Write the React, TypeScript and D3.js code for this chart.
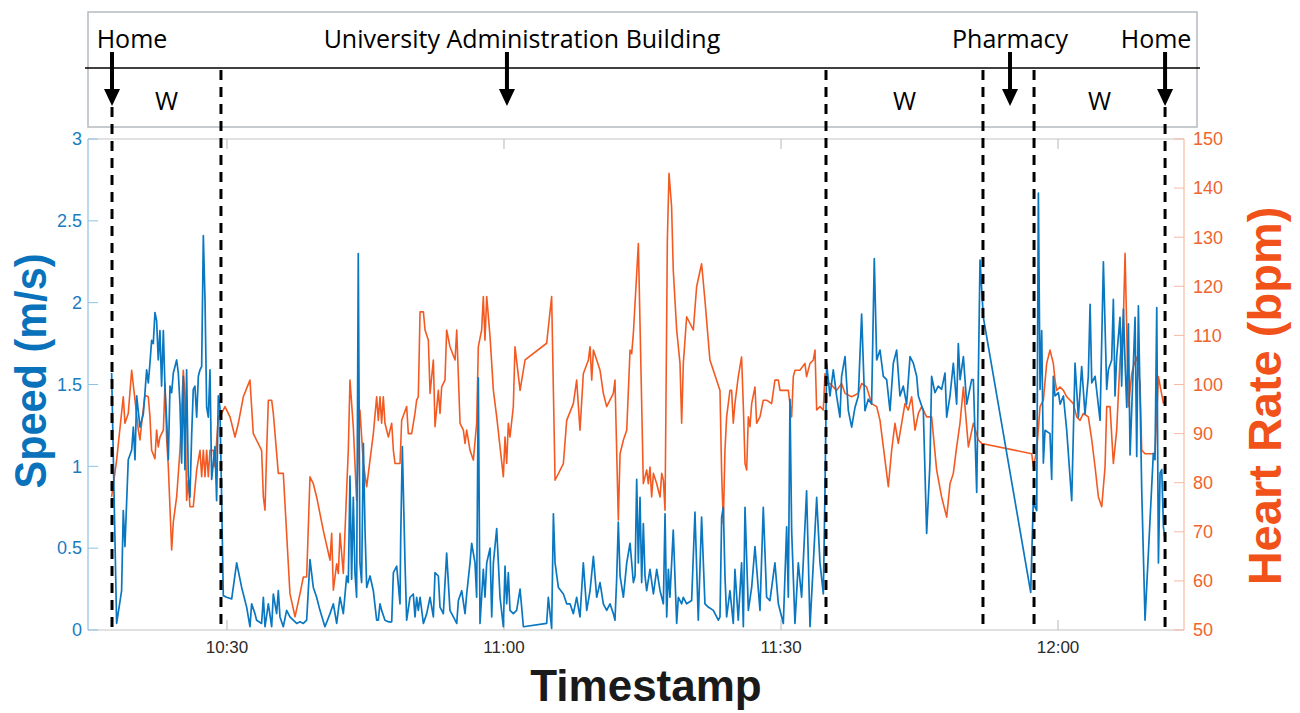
import * as d3 from 'd3';

const WIDTH = 1300;
const HEIGHT = 713;

// minutes after 10:00 -> walking speed (m/s)
const speedData: [number, number][] = [
  [17.51, 1.57], [18.05, 0.04], [18.59, 0.24], [18.77, 0.73], [18.95, 0.51], [19.31, 1.04], [19.68, 1.1], [19.86, 1.24],
  [20.04, 1.04], [20.22, 1.43], [20.58, 1.24], [20.94, 1.32], [21.12, 1.45], [21.3, 1.59], [21.48, 1.51], [21.66, 1.63],
  [21.84, 1.77], [22.02, 1.75], [22.2, 1.94], [22.38, 1.89], [22.56, 1.65], [22.74, 1.83], [22.92, 1.49], [23.11, 1.83],
  [23.29, 1.47], [23.47, 1.28], [23.65, 1.04], [23.83, 1.49], [24.01, 1.45], [24.19, 1.57], [24.55, 1.65], [24.73, 1.57],
  [24.91, 1.38], [25.09, 1.02], [25.27, 1.55], [25.45, 0.98], [25.63, 1.59], [25.81, 0.94], [25.99, 0.81], [26.17, 1.18],
  [26.35, 1.47], [26.53, 1.49], [26.72, 1.3], [26.9, 1.55], [27.08, 1.59], [27.26, 1.61], [27.44, 2.41], [27.62, 2.02],
  [27.8, 1.36], [27.98, 1.3], [28.16, 1.59], [28.34, 0.92], [28.52, 1.02], [28.7, 1.12], [28.88, 0.79], [29.06, 1.43],
  [29.24, 1.36], [29.42, 0.81], [29.6, 0.21], [29.96, 0.2], [30.51, 0.19], [31.05, 0.41], [31.59, 0.26], [32.13, 0.14],
  [32.49, 0.02], [32.67, 0.16], [33.03, 0.1], [33.21, 0.06], [33.75, 0.04], [33.94, 0.2], [34.12, 0.02], [34.48, 0.16],
  [34.84, 0.02], [35.02, 0.22], [35.38, 0.1], [35.56, 0.24], [35.74, 0.08], [36.1, 0.02], [36.46, 0.12], [36.82, 0.08],
  [37.18, 0.06], [37.55, 0.04], [37.91, 0.05], [38.27, 0.04], [38.63, 0.06], [38.99, 0.43], [39.35, 0.26], [39.71, 0.2],
  [40.07, 0.12], [40.61, 0.02], [41.16, 0.1], [41.52, 0.16], [41.88, 0.04], [42.24, 0.2], [42.6, 0.1], [42.96, 0.33],
  [43.14, 0.29], [43.32, 0.94], [43.5, 0.31], [43.68, 0.81], [43.86, 0.35], [44.04, 0.2], [44.22, 2.3], [44.4, 0.41],
  [44.58, 0.29], [44.77, 1.14], [44.95, 0.61], [45.13, 0.26], [45.49, 0.33], [45.85, 0.24], [46.21, 0.06], [46.39, 0.06],
  [46.57, 0.16], [46.75, 0.12], [47.11, 0.06], [47.48, 0.05], [47.84, 0.05], [48.02, 0.35], [48.38, 0.39], [48.74, 0.16],
  [48.81, 0.55], [48.99, 1.12], [49.28, 0.41], [49.46, 0.06], [49.82, 0.2], [50.18, 0.22], [50.36, 0.08], [50.54, 0.2],
  [50.72, 0.12], [50.91, 0.2], [51.27, 0.04], [51.63, 0.1], [51.99, 0.2], [52.35, 0.08], [52.53, 0.35], [52.89, 0.33],
  [53.07, 0.14], [53.43, 0.1], [53.79, 0.47], [54.15, 0.12], [54.52, 0.08], [54.88, 0.04], [55.06, 0.18], [55.42, 0.24],
  [55.78, 0.1], [55.96, 0.22], [56.32, 0.41], [56.5, 0.53], [56.68, 0.47], [56.86, 0.41], [57.04, 0.2], [57.22, 1.54],
  [57.4, 0.04], [57.76, 0.37], [57.94, 0.2], [58.13, 0.41], [58.49, 0.5], [58.67, 0.08], [58.85, 0.41], [59.21, 0.62],
  [59.57, 0.2], [59.93, 0.02], [60.11, 0.39], [60.29, 0.16], [60.47, 0.35], [60.65, 0.12], [61.01, 0.1], [61.37, 0.12],
  [61.74, 0.25], [62.1, 0.02], [64.62, 0.04], [64.8, 0.2], [65.16, 0.01], [65.35, 0.71], [65.53, 0.41], [65.89, 0.26],
  [66.43, 0.22], [66.79, 0.16], [67.15, 0.16], [67.51, 0.1], [67.87, 0.2], [68.23, 0.08], [68.59, 0.41], [68.96, 0.12],
  [69.32, 0.24], [69.68, 0.45], [70.04, 0.2], [70.4, 0.29], [70.76, 0.16], [71.12, 0.12], [71.48, 0.16], [71.84, 0.1],
  [72.02, 0.06], [72.2, 0.31], [72.38, 0.66], [72.57, 0.33], [72.93, 0.2], [73.29, 0.41], [73.65, 0.53], [74.01, 0.29],
  [74.19, 0.33], [74.37, 0.92], [74.55, 0.41], [74.73, 0.81], [74.91, 0.29], [75.09, 0.65], [75.27, 0.33], [75.45, 0.24],
  [75.81, 0.37], [76.18, 0.22], [76.54, 0.37], [76.9, 0.24], [77.26, 0.16], [77.44, 0.71], [77.62, 0.08], [77.8, 0.37],
  [77.97, 0.2], [78.33, 0.61], [78.7, 0.04], [78.88, 0.2], [79.24, 0.16], [79.42, 0.2], [79.78, 0.16], [80.32, 0.18],
  [80.68, 0.72], [81.04, 0.06], [81.4, 0.69], [81.76, 0.16], [82.12, 0.14], [82.67, 0.12], [83.21, 0.06], [83.39, 0.08],
  [83.57, 0.69], [83.75, 0.75], [83.93, 0.33], [84.11, 0.08], [84.47, 0.24], [84.83, 0.04], [85.01, 0.37], [85.37, 0.06],
  [85.73, 0.41], [85.92, 0.02], [86.1, 0.75], [86.46, 0.12], [86.82, 0.26], [87.18, 0.51], [87.72, 0.12], [88.08, 0.75],
  [88.44, 0.2], [88.8, 0.18], [89.34, 0.41], [89.71, 0.16], [90.25, 0.04], [90.61, 0.63], [90.79, 0.2], [90.97, 1.41],
  [91.15, 0.61], [91.51, 0.04], [91.87, 0.41], [92.23, 0.2], [92.77, 0.85], [93.14, 0.02], [93.5, 0.41], [93.86, 0.81],
  [94.22, 0.41], [94.58, 0.22], [94.76, 0.85], [94.94, 1.63], [95.3, 1.43], [95.66, 1.59], [96.02, 1.43], [96.38, 1.3],
  [96.56, 1.55], [96.93, 1.67], [97.29, 1.34], [97.65, 1.24], [98.01, 1.36], [98.37, 1.43], [98.73, 1.93], [99.09, 1.34],
  [99.45, 1.41], [99.81, 1.38], [100.1, 2.27], [100.36, 1.65], [100.72, 1.71], [101.08, 1.55], [101.44, 1.53], [101.8, 1.34],
  [102.16, 1.63], [102.52, 1.71], [102.88, 1.43], [103.24, 1.49], [103.6, 1.38], [103.97, 1.67], [104.33, 1.63], [104.69, 1.55],
  [104.87, 1.43], [105.41, 1.34], [105.77, 0.59], [106.13, 1.02], [106.31, 1.55], [106.67, 1.45], [107.03, 1.49], [107.39, 1.47],
  [107.76, 1.57], [107.94, 1.3], [108.3, 1.43], [108.66, 1.63], [109.02, 1.38], [109.2, 1.75], [109.39, 1.53], [109.75, 1.67],
  [110.11, 1.38], [110.65, 1.53], [110.83, 1.53], [111.19, 0.84], [111.55, 2.26], [111.91, 1.91], [117.04, 0.23], [117.33, 0.81],
  [117.51, 0.75], [117.69, 0.73], [117.87, 2.67], [118.05, 1.47], [118.23, 1.83], [118.41, 1.02], [118.59, 1.22], [119.13, 1.2],
  [119.31, 0.92], [119.49, 1.55], [119.67, 1.43], [120.04, 1.45], [120.22, 1.38], [120.58, 1.43], [120.94, 1.22], [121.48, 0.79],
  [121.84, 1.63], [122.2, 1.3], [122.56, 1.61], [122.92, 1.32], [123.28, 1.55], [123.47, 1.99], [123.65, 1.51], [124.01, 1.55],
  [124.55, 1.28], [124.91, 2.25], [125.27, 1.47], [125.45, 1.59], [125.81, 1.65], [125.99, 2.02], [126.17, 1.43], [126.35, 1.67],
  [126.71, 1.91], [126.89, 1.49], [127.08, 1.96], [127.26, 1.63], [127.44, 1.36], [127.62, 1.87], [127.8, 1.07], [128.16, 1.63],
  [128.34, 1.91], [128.52, 1.06], [128.7, 1.98], [128.88, 1.43], [129.06, 0.86], [129.42, 0.06], [130.32, 1.08], [130.5, 1.04],
  [130.69, 1.97], [130.87, 0.41], [131.05, 0.96], [131.23, 0.98], [131.41, 0.63], [131.59, 0.55],
];

// minutes after 10:00 -> heart rate (bpm)
const heartRateData: [number, number][] = [
  [17.51, 77.1], [18.05, 84.6], [18.77, 97.5], [18.95, 92.1], [19.31, 94.1], [19.68, 102.9], [20.04, 96.8], [20.4, 90.7],
  [20.58, 88.7], [20.76, 92.1], [21.12, 97.8], [21.48, 97.5], [21.66, 93.4], [21.84, 86.6], [22.2, 84.9], [22.38, 90.7],
  [22.56, 87.3], [22.74, 89.3], [23.11, 90.7], [23.29, 100.2], [23.47, 88.7], [23.65, 83.2], [24.01, 66.3], [24.19, 72.0],
  [24.55, 77.1], [24.91, 86.6], [25.27, 102.9], [25.45, 97.5], [25.63, 76.4], [25.81, 80.5], [25.99, 75.1], [26.35, 75.1],
  [26.72, 82.6], [27.08, 86.6], [27.26, 81.2], [27.44, 86.6], [27.62, 81.2], [27.8, 86.6], [27.98, 81.2], [28.16, 86.6],
  [28.52, 86.6], [28.7, 83.2], [29.06, 93.4], [29.42, 94.1], [29.78, 95.5], [30.33, 93.4], [30.87, 89.3], [31.23, 92.1],
  [31.77, 97.5], [32.49, 100.9], [32.85, 90.0], [33.75, 86.6], [33.94, 77.1], [34.12, 74.4], [34.3, 86.6], [34.48, 96.8],
  [34.84, 96.8], [35.02, 94.1], [35.56, 81.9], [36.1, 81.9], [36.82, 57.4], [37.37, 52.7], [37.91, 57.4], [38.27, 60.8],
  [38.63, 60.8], [38.81, 71.0], [38.99, 81.2], [39.35, 79.8], [39.71, 77.1], [40.43, 70.3], [41.16, 64.2], [41.34, 69.7],
  [41.52, 58.1], [41.88, 63.5], [42.06, 61.5], [42.24, 69.7], [42.6, 61.5], [42.96, 78.5], [43.14, 86.6], [43.32, 100.9],
  [43.68, 91.4], [44.04, 76.4], [44.4, 94.8], [44.77, 83.9], [45.13, 79.2], [45.49, 84.6], [45.85, 90.0], [46.21, 97.5],
  [46.39, 92.7], [46.57, 97.5], [46.75, 92.1], [46.93, 97.5], [47.11, 92.1], [47.48, 89.3], [47.84, 92.1], [48.02, 86.6],
  [48.2, 83.9], [48.74, 83.9], [48.92, 92.7], [49.46, 95.5], [49.64, 90.0], [50.0, 90.0], [50.36, 94.1], [50.54, 96.8],
  [50.72, 97.5], [50.91, 114.8], [51.27, 114.8], [51.45, 111.1], [51.81, 109.0], [51.99, 98.2], [52.35, 105.0], [52.53, 91.4],
  [52.89, 98.8], [53.07, 94.1], [53.25, 99.5], [53.61, 100.9], [53.79, 111.1], [54.15, 107.7], [54.7, 105.0], [54.88, 111.1],
  [55.24, 92.1], [55.6, 90.7], [55.78, 88.0], [55.96, 90.7], [56.32, 86.6], [56.68, 84.6], [57.04, 92.1], [57.22, 107.7],
  [57.58, 111.1], [57.76, 117.9], [57.94, 109.0], [58.13, 117.9], [58.49, 109.7], [58.85, 98.8], [59.21, 93.4], [59.57, 87.3],
  [59.93, 81.2], [60.11, 89.3], [60.29, 83.9], [60.47, 92.1], [60.65, 89.3], [61.01, 95.5], [61.19, 107.7], [61.74, 98.8],
  [62.28, 105.0], [64.62, 108.4], [65.16, 117.9], [65.53, 80.5], [66.43, 83.9], [66.79, 92.7], [67.51, 96.1], [67.87, 100.9],
  [68.23, 90.7], [68.59, 102.2], [69.14, 105.0], [69.32, 107.7], [69.5, 100.9], [69.68, 107.0], [70.04, 105.0], [70.4, 102.9],
  [70.76, 98.2], [71.12, 95.5], [71.84, 98.2], [72.02, 100.9], [72.38, 72.4], [72.57, 85.9], [72.93, 88.7], [73.29, 90.7],
  [73.65, 107.0], [73.83, 106.3], [74.01, 110.4], [74.55, 128.7], [74.73, 112.4], [75.09, 79.8], [75.45, 82.6], [75.63, 79.8],
  [75.81, 83.2], [75.99, 77.1], [76.18, 81.9], [76.54, 79.8], [76.9, 77.1], [77.08, 81.9], [77.26, 80.5], [77.44, 74.4],
  [77.69, 129.4], [77.87, 143.0], [78.15, 136.2], [78.33, 123.3], [78.7, 111.1], [79.06, 104.3], [79.24, 92.1], [79.42, 104.3],
  [79.78, 113.8], [80.5, 111.1], [80.86, 119.9], [81.4, 124.6], [81.76, 117.2], [81.94, 113.1], [82.3, 105.0], [82.67, 102.9],
  [83.39, 98.8], [83.57, 81.9], [83.75, 71.7], [83.93, 86.6], [84.11, 93.4], [84.47, 98.8], [84.65, 98.8], [84.83, 92.1],
  [85.01, 96.1], [85.37, 101.6], [85.73, 105.6], [85.92, 95.5], [86.1, 83.9], [86.28, 82.6], [86.46, 93.4], [86.64, 91.4],
  [86.82, 96.1], [87.18, 99.5], [87.36, 92.1], [87.72, 93.4], [88.08, 96.8], [88.44, 96.8], [88.98, 96.1], [89.34, 100.9],
  [89.71, 100.9], [89.89, 98.8], [90.79, 98.8], [90.97, 96.1], [91.15, 93.4], [91.33, 101.6], [91.51, 102.9], [92.05, 102.9],
  [92.59, 104.3], [92.77, 101.6], [93.14, 104.3], [93.5, 105.0], [93.68, 107.0], [93.86, 94.8], [94.22, 95.5], [94.58, 94.8],
  [94.76, 102.2], [94.94, 100.2], [95.3, 100.2], [96.02, 98.8], [96.56, 100.2], [96.93, 98.2], [97.65, 97.5], [98.37, 98.2],
  [98.73, 100.2], [99.27, 99.5], [99.81, 96.1], [100.36, 95.5], [100.72, 92.7], [101.08, 87.3], [101.62, 79.2], [101.98, 86.6],
  [102.34, 92.1], [102.7, 88.0], [103.42, 96.1], [103.78, 94.8], [104.15, 97.5], [104.51, 90.7], [104.87, 94.1], [105.23, 95.5],
  [105.77, 93.4], [106.31, 93.4], [106.85, 82.6], [107.39, 77.1], [107.94, 73.0], [108.3, 79.8], [108.66, 81.9], [109.02, 87.3],
  [109.38, 92.1], [109.75, 99.5], [110.29, 87.3], [110.83, 92.1], [111.37, 88.7], [111.73, 88.0], [117.15, 85.9], [117.33, 83.2],
  [117.69, 86.6], [118.05, 95.5], [118.41, 96.8], [118.77, 104.3], [119.13, 107.0], [119.49, 104.3], [119.67, 100.9], [119.85, 98.8],
  [120.22, 99.5], [120.58, 98.8], [120.94, 97.5], [121.66, 96.1], [122.02, 93.4], [122.38, 92.7], [122.74, 94.1], [123.28, 93.4],
  [123.65, 88.7], [124.01, 83.2], [124.37, 77.1], [124.73, 75.1], [125.09, 83.2], [125.27, 95.5], [125.63, 95.5], [125.99, 83.9],
  [126.35, 90.7], [126.71, 105.0], [127.08, 113.8], [127.26, 126.7], [127.44, 111.1], [127.62, 95.5], [127.98, 102.2], [128.16, 103.6],
  [128.52, 105.6], [128.88, 100.2], [129.06, 86.6], [129.42, 85.9], [130.5, 85.9], [130.87, 101.6], [131.41, 96.1],
];

const speedTicks = [0, 0.5, 1, 1.5, 2, 2.5, 3];
const heartRateTicks = [50, 60, 70, 80, 90, 100, 110, 120, 130, 140, 150];
const timeTicks = [30, 60, 90, 120]; // minutes after 10:00
const timeDomain = [14.95, 133.64];

// segment boundaries (minutes after 10:00), dashed lines
const boundaries = [17.55, 29.35, 94.87, 111.87, 117.4, 131.59];
// walking segments, as index pairs into boundaries
const walkSegments: [number, number][] = [[0, 1], [2, 3], [4, 5]];
// places, arrow times
const places = [
  { name: 'Home', t: 17.55, dx: 20 },
  { name: 'University Administration Building', t: 60.32, dx: 15 },
  { name: 'Pharmacy', t: 114.8, dx: 0 },
  { name: 'Home', t: 131.59, dx: -9 },
];

const BLUE = '#0a77c0';
const ORANGE = '#f35a22';

const base = new Date(2024, 0, 1, 10, 0, 0).getTime();
const toDate = (m: number) => new Date(base + m * 60000);

export default function App() {
  const left = 88;
  const right = 1184;
  const top = 139;
  const bottom = 630;

  const x = d3.scaleTime().domain(timeDomain.map(toDate)).range([left, right]);
  const ySpeed = d3.scaleLinear().domain([0, 3]).range([bottom, top]);
  const yHr = d3.scaleLinear().domain([50, 150]).range([bottom, top]);

  const speedLine = d3.line<[number, number]>()
    .x(d => x(toDate(d[0])))
    .y(d => ySpeed(d[1]));
  const hrLine = d3.line<[number, number]>()
    .x(d => x(toDate(d[0])))
    .y(d => yHr(d[1]));

  const fmt = d3.timeFormat('%H:%M');
  const arrowTimes = places.map(p => p.t);
  const font = 'Liberation Sans, Arial, Helvetica, sans-serif';
  const labelFont = 'Open Sans, sans-serif';

  // annotation panel
  const boxTop = 12;
  const boxBottom = 127;
  const midY = 68;

  return (
    <div style={{ position: 'absolute', left: 0, top: 0 }}>
      <svg width={WIDTH} height={HEIGHT} viewBox={`0 0 ${WIDTH} ${HEIGHT}`} style={{ display: 'block', background: '#fff' }}>
        {/* Annotation panel */}
        <rect x={88} y={boxTop} width={1109} height={boxBottom - boxTop} fill="#fff" stroke="#b4bac0" strokeWidth={1.5} />
        <line x1={85} x2={1200} y1={midY} y2={midY} stroke="#000" strokeWidth={1.5} />
        {places.map((p, i) => {
          const px = x(toDate(p.t));
          return (
            <g key={`pl-${i}`}>
              <text x={px + p.dx} y={48} textAnchor="middle" fontFamily={labelFont} fontSize={25} fill="#000">
                {p.name}
              </text>
              <line x1={px} x2={px} y1={52} y2={91} stroke="#000" strokeWidth={4} />
              <path d={`M${px - 8},89 L${px + 8},89 L${px},106 Z`} fill="#000" />
            </g>
          );
        })}
        {walkSegments.map(([a, b], i) => (
          <text key={`w-${i}`} x={x(toDate((boundaries[a] + boundaries[b]) / 2))} y={110} textAnchor="middle" fontFamily={labelFont} fontSize={25} fill="#000">
            W
          </text>
        ))}

        {/* Plot frame */}
        <line x1={left} x2={right} y1={top} y2={top} stroke="#c4c4c4" strokeWidth={1.2} />
        <line x1={left} x2={right} y1={bottom} y2={bottom} stroke="#c4c4c4" strokeWidth={1.2} />
        <line x1={left} x2={left} y1={top} y2={bottom} stroke="#8ec2e6" strokeWidth={1.2} />
        <line x1={right} x2={right} y1={top} y2={bottom} stroke="#f8b9a0" strokeWidth={1.2} />

        {/* time ticks */}
        {timeTicks.map(t => (
          <g key={`xt-${t}`}>
            <line x1={x(toDate(t))} x2={x(toDate(t))} y1={bottom} y2={bottom - 10} stroke="#b8b8b8" />
            <line x1={x(toDate(t))} x2={x(toDate(t))} y1={top} y2={top + 10} stroke="#b8b8b8" />
            <text x={x(toDate(t))} y={653} textAnchor="middle" fontFamily={font} fontSize={17} fill="#2b2b2b">
              {fmt(toDate(t))}
            </text>
          </g>
        ))}

        {/* speed axis */}
        {speedTicks.map(v => (
          <g key={`ys-${v}`}>
            <line x1={left} x2={left + 10} y1={ySpeed(v)} y2={ySpeed(v)} stroke="#8ec2e6" />
            <text x={82} y={ySpeed(v)} dy="0.35em" textAnchor="end" fontFamily={font} fontSize={18} fill="#1a7cc0">
              {d3.format('~g')(v)}
            </text>
          </g>
        ))}

        {/* heart rate axis */}
        {heartRateTicks.map(v => (
          <g key={`yh-${v}`}>
            <line x1={right - 10} x2={right} y1={yHr(v)} y2={yHr(v)} stroke="#f8b9a0" />
            <text x={1193} y={yHr(v)} dy="0.35em" textAnchor="start" fontFamily={font} fontSize={18} fill="#f0652e">
              {v}
            </text>
          </g>
        ))}

        {/* series */}
        <path d={hrLine(heartRateData) || ''} fill="none" stroke={ORANGE} strokeWidth={1.6} strokeLinejoin="round" />
        <path d={speedLine(speedData) || ''} fill="none" stroke={BLUE} strokeWidth={1.7} strokeLinejoin="round" />

        {/* segment boundaries */}
        {boundaries.map((b, i) => (
          <line
            key={`b-${i}`}
            x1={x(toDate(b))} x2={x(toDate(b))}
            y1={arrowTimes.includes(b) ? 107 : 70}
            y2={628}
            stroke="#000"
            strokeWidth={3}
            strokeDasharray="10,7"
          />
        ))}

        {/* axis titles */}
        <text transform="translate(46,371) rotate(-90)" textAnchor="middle" fontFamily={font} fontWeight="bold" fontSize={45} fill="#0a72bb" textLength={235} lengthAdjust="spacingAndGlyphs">
          Speed (m/s)
        </text>
        <text transform="translate(1281,396) rotate(-90)" textAnchor="middle" fontFamily={font} fontWeight="bold" fontSize={47} fill="#f0521a">
          Heart Rate (bpm)
        </text>
        <text x={646} y={701} textAnchor="middle" fontFamily={font} fontWeight="bold" fontSize={44} fill="#1a1a1a">
          Timestamp
        </text>
      </svg>
    </div>
  );
}
